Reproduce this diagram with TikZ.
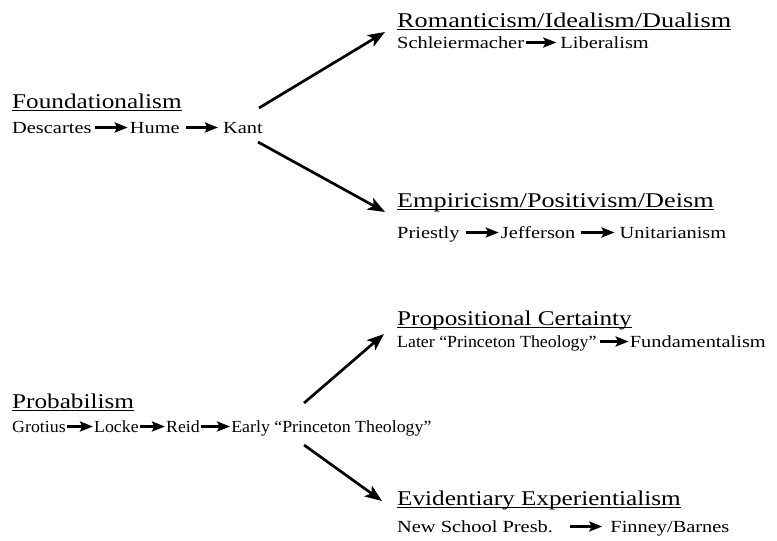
\documentclass[tikz,border=0pt]{standalone}
\usepackage{fontspec}
\setmainfont{Liberation Serif}
\newfontfamily\gar[FakeStretch=1.2]{Liberation Serif}
\newfontfamily\garwide[FakeStretch=1.25]{Liberation Serif}
\newfontfamily\garcond[FakeStretch=1.05]{Liberation Serif}
\usetikzlibrary{positioning}
\usetikzlibrary{arrows.meta}

\tikzset{
  school/.style={inner sep=0pt, anchor=base west, font=\gar\fontsize{21}{25}\selectfont},
  wide school/.style={school, font=\garwide\fontsize{21}{25}\selectfont},
  thinker/.style={inner sep=0pt, font=\gar\fontsize{17}{20}\selectfont},
  tight/.style={inner sep=0pt, font=\garcond\fontsize{17}{20}\selectfont},
  lead/.style={line width=2.7pt, -{Stealth[length=17pt,width=13pt,inset=4pt]}},
  link/.style={line width=3pt, -{Stealth[length=13pt,width=10pt,inset=2.5pt]}},
}

\begin{document}
\begin{tikzpicture}[x=1pt,y=-1pt]
  \useasboundingbox (0,0) rectangle (777,541);

  % upper tree
  \node[school] (found) at (12,108) {Foundationalism};
  \node[thinker, anchor=base west] (desc) at ([yshift=-25pt]found.base west) {Descartes};
  \node[thinker, base right=38pt of desc] (hume) {Hume};
  \node[thinker, base right=43pt of hume] (kant) {Kant};

  \node[wide school] (roman) at (397,27) {Romanticism/Idealism/Dualism};
  \node[thinker, anchor=base west] (schl) at ([yshift=-21pt]roman.base west) {Schleiermacher};
  \node[thinker, base right=36pt of schl] (lib) {Liberalism};

  \node[wide school] (empir) at (397,207) {Empiricism/Positivism/Deism};
  \node[thinker, anchor=base west] (pri) at ([yshift=-31pt]empir.base west) {Priestly};
  \node[thinker, base right=41pt of pri] (jef) {Jefferson};
  \node[thinker, base right=44pt of jef] (uni) {Unitarianism};

  % lower tree
  \node[school] (prob) at (12,408) {Probabilism};
  \node[tight, anchor=base west] (gro) at ([yshift=-24pt]prob.base west) {Grotius};
  \node[tight, base right=28pt of gro] (loc) {Locke};
  \node[tight, base right=27pt of loc] (reid) {Reid};
  \node[tight, base right=31pt of reid] (early) {Early “Princeton Theology”};

  \node[school] (propos) at (397,325) {Propositional Certainty};
  \node[tight, anchor=base west] (later) at ([yshift=-22pt]propos.base west) {Later “Princeton Theology”};
  \node[thinker, base right=33pt of later] (fund) {Fundamentalism};

  \node[school] (evid) at (397,505) {Evidentiary Experientialism};
  \node[thinker, anchor=base west] (nsp) at ([yshift=-27pt]evid.base west) {New School Presb.};
  \node[thinker, base right=57pt of nsp] (fin) {Finney/Barnes};

  % underlines
  \foreach \t in {found,roman,empir,prob,propos,evid}
    \draw[line width=1.1pt] ([yshift=-2.5pt]\t.base west) -- ([yshift=-2.5pt]\t.base east);

  % small arrows
  \foreach \a/\b/\s/\e in {desc/hume/3/2, hume/kant/6/5, schl/lib/2/4, pri/jef/6/2,
      jef/uni/5/5, gro/loc/1/1, loc/reid/1/1, reid/early/1/1, later/fund/3/1, nsp/fin/17/8}
    \draw[link] ([shift={(\s pt,5.5pt)}]\a.base east) -- ([shift={(-\e pt,5.5pt)}]\b.base west);

  % branches
  \draw[lead] ([shift={(-4pt,25pt)}]kant.base east) -- ([shift={(-12pt,-5pt)}]roman.base west);
  \draw[lead] ([shift={(-5pt,-9pt)}]kant.base east) -- ([shift={(-12pt,-5pt)}]empir.base west);
  \draw[lead] ([shift={(73pt,29pt)}]early.base west) -- ([shift={(-13pt,-9pt)}]propos.base west);
  \draw[lead] ([shift={(73pt,-13pt)}]early.base west) -- ([shift={(-15pt,4pt)}]evid.base west);

\end{tikzpicture}
\end{document}
